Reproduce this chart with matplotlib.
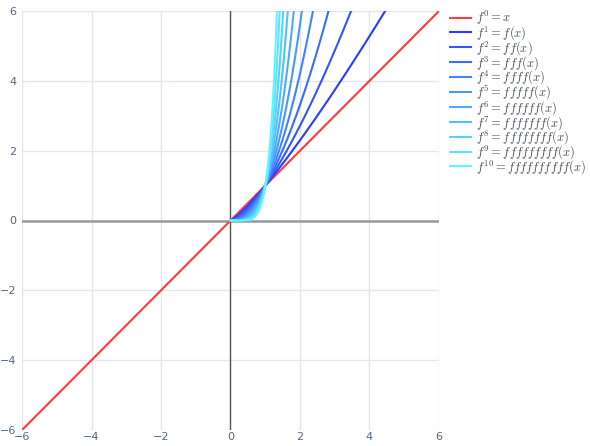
import numpy as np
import matplotlib
matplotlib.use("Agg")
import matplotlib.pyplot as plt
from matplotlib.lines import Line2D

plt.rcParams['mathtext.fontset'] = 'cm'

# ---- data ----
base_power = 1.2
iterations = list(range(0, 11))
labels = ["$f^{0} = x$"] + ["$f^{%d} = %sf(x)$" % (n, "f" * (n - 1)) for n in range(1, 11)]
colors = ["#ff3a3a",
          "#2b3bff", "#3355ff", "#3a6cff", "#4282ff", "#4a96ff",
          "#4faaff", "#52c0ff", "#56d2ff", "#5ae4ff", "#62f4ff"]
x_ticks = [-6, -4, -2, 0, 2, 4, 6]
y_ticks = [-6, -4, -2, 0, 2, 4, 6]

fig = plt.figure(figsize=(5.9, 4.46), dpi=100)
ax = fig.add_axes([22/590, 1-430/446, (439-22)/590, (430-11)/446])

grid_c = "#e3e6ea"
for t in x_ticks:
    ax.axvline(t, color=grid_c, lw=1, zorder=0)
for t in y_ticks:
    ax.axhline(t, color=grid_c, lw=1, zorder=0)
ax.axhline(0, color="#999999", lw=1.8, zorder=1)
ax.axvline(0, color="#555555", lw=1.0, zorder=1)

handles = []
for n, lab, c in zip(iterations, labels, colors):
    if n == 0:
        x = np.linspace(-6, 6, 200)
        y = x
    else:
        x = np.linspace(0, 6, 3000)
        y = x ** (base_power ** n)
    ax.plot(x, y, color=c, lw=1.5, zorder=3, clip_on=True)
    handles.append(Line2D([0], [0], color=c, lw=1.5))

ax.set_xlim(-6, 6)
ax.set_ylim(-6, 6)
ax.set_xticks(x_ticks)
ax.set_yticks(y_ticks)
ax.set_xticklabels(["\u22126", "\u22124", "\u22122", "0", "2", "4", "6"])
ax.set_yticklabels(["\u22126", "\u22124", "\u22122", "0", "2", "4", "6"])
ax.tick_params(axis="x", length=0, labelsize=8, colors="#506784", pad=1.5)
ax.tick_params(axis="y", length=0, labelsize=8, colors="#506784", pad=4)
for s in ax.spines.values():
    s.set_visible(False)

leg = fig.legend(handles, labels, loc="upper left", bbox_to_anchor=(450/590, 1-9/446),
                 frameon=False, fontsize=9, handlelength=1.7, handletextpad=0.4,
                 labelspacing=-0.24, borderaxespad=0, borderpad=0)
for t in leg.get_texts():
    t.set_color("#444c58")

fig.savefig("out.png", dpi=100)
